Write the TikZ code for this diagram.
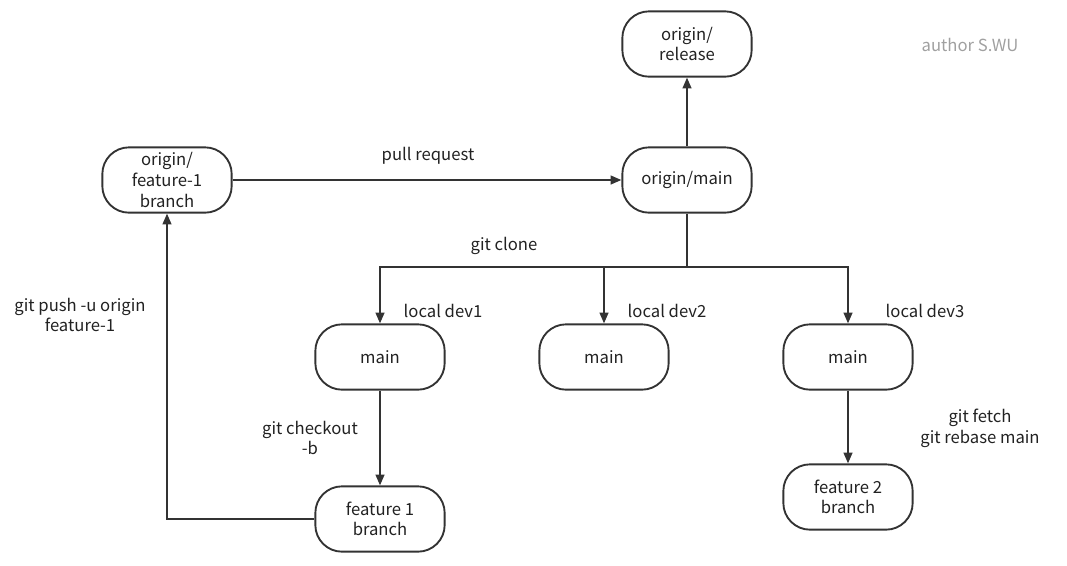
\documentclass[tikz,border=0pt]{standalone}
\usepackage{fontspec}
\newfontfamily\cjk{Noto Sans CJK SC}
\usepackage{tikz}
\usetikzlibrary{arrows.meta, positioning, calc}
\usepackage{xcolor}
\definecolor{GitLine}{HTML}{333333}
\definecolor{GitText}{HTML}{222222}
\definecolor{GitGrey}{HTML}{A0A0A0}
\tikzset{
    % Box styles with round ends
    branch/.style={
        rectangle,
        rounded corners=20pt,
        draw=GitLine,
        fill=white,
        line width=1.4pt,
        minimum width=97pt,
        minimum height=49pt,
        inner sep=1pt,
        align=center,
        text=GitText,
        font=\cjk\fontsize{12.5}{15.5}\selectfont
    },
    label text/.style={
        align=center,
        text=GitText,
        font=\cjk\fontsize{12.5}{15.5}\selectfont
    },
    arrow style/.style={
        -{Triangle[length=8pt,width=6.5pt]},
        line width=1.4pt,
        GitLine
    },
    line style/.style={
        line width=1.4pt,
        GitLine
    }
}
\begin{document}
\begin{tikzpicture}[x=0.75pt, y=-0.75pt]
        \useasboundingbox (0,0) rectangle (1067,565);

        % remote branches
        \node[branch] (rel) at (687, 44) {origin/\\release};
        \node[branch] (omain) at (687, 180) {origin/main};
        \node[branch] (ofeat) at (167, 180) {origin/\\feature-1\\branch};

        % local clones
        \node[branch] (dev1) at (380, 357) {main};
        \node[branch] (dev2) at (604, 357) {main};
        \node[branch] (dev3) at (848, 357) {main};

        % local feature branches
        \node[branch] (feat1) at (380, 519) {feature 1\\branch};
        \node[branch] (feat2) at (848, 497) {feature 2\\branch};

        % Arrows
        \draw[arrow style] (ofeat.east) -- (omain.west);
        \draw[arrow style] (omain.north) -- (rel.south);
        \coordinate (split) at (687, 267);
        \draw[line style] (omain.south) -- (split);
        \draw[arrow style] (split) -| (dev1.north);
        \draw[arrow style] (split) -| (dev2.north);
        \draw[arrow style] (split) -| (dev3.north);
        \draw[arrow style] (dev1.south) -- (feat1.north);
        \draw[arrow style] (dev3.south) -- (feat2.north);
        \draw[arrow style] (feat1.west) -| (ofeat.south);

        % Labels
        \node[label text] (lpull) at (428, 156) {pull request};
        \node[label text] (lclone) at (504, 246) {git clone};
        \node[label text] (ldev1) at (443, 311) {local dev1};
        \node[label text] (ldev2) at (667, 311) {local dev2};
        \node[label text] (ldev3) at (925, 311) {local dev3};
        \node[label text] (lcheck) at (310, 438) {git checkout\\-b};
        \node[label text] (lfetch) at (980, 428) {git fetch\\git rebase main};
        \node[label text] (lpush) at (80, 315) {git push -u origin\\feature-1};
        \node[label text, text=GitGrey] (lauthor) at (970, 45) {author S.WU};
    \end{tikzpicture}
\end{document}
